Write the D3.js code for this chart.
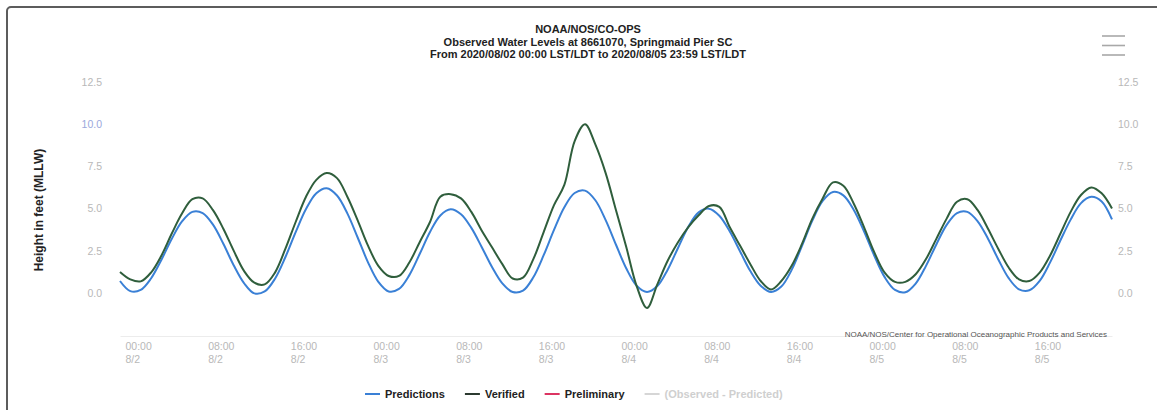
<!DOCTYPE html>
<html>
<head>
<meta charset="utf-8">
<script src="https://cdn.jsdelivr.net/npm/d3@7/dist/d3.min.js"></script>
<style>
  body { margin: 0; background: #fff; }
  svg { display: block; font-family: "Liberation Sans", Arial, sans-serif; }
</style>
</head>
<body>
<div id="chart"></div>
<script>

// chart text
var titleLines = [
    "NOAA/NOS/CO-OPS",
    "Observed Water Levels at 8661070, Springmaid Pier SC",
    "From 2020/08/02 00:00 LST/LDT to 2020/08/05 23:59 LST/LDT"
];
var yTitle = "Height in feet (MLLW)";
var credit = "NOAA/NOS/Center for Operational Oceanographic Products and Services";

// hourly values from 2020/08/02 00:00, feet above MLLW
var startTime = new Date(2020, 7, 2, 0, 0);
var endTime = new Date(2020, 7, 6, 0, 0);

var predictions = [
    0.70, 0.10, 0.17, 0.85, 1.95, 3.19, 4.23, 4.80, 4.73, 4.04,
    2.91, 1.64, 0.58, -0.03, 0.08, 0.84, 2.11, 3.60, 4.97, 5.91,
    6.20, 5.77, 4.71, 3.28, 1.81, 0.65, 0.08, 0.23, 1.05, 2.30,
    3.61, 4.59, 4.95, 4.66, 3.85, 2.72, 1.53, 0.56, 0.05, 0.13,
    0.92, 2.23, 3.73, 5.08, 5.92, 6.06, 5.49, 4.31, 2.85, 1.44,
    0.42, 0.05, 0.40, 1.37, 2.66, 3.92, 4.77, 4.99, 4.57, 3.65,
    2.47, 1.29, 0.42, 0.05, 0.37, 1.36, 2.79, 4.28, 5.45, 5.98,
    5.78, 4.93, 3.65, 2.20, 0.93, 0.17, 0.03, 0.55, 1.60, 2.87,
    4.03, 4.73, 4.80, 4.24, 3.21, 1.98, 0.87, 0.21, 0.15, 0.71,
    1.79, 3.10, 4.34, 5.32, 5.69, 5.41, 4.35
];

var verified = [
    1.24, 0.80, 0.68, 1.20, 2.20, 3.50, 4.70, 5.55, 5.60, 4.90,
    3.80, 2.50, 1.30, 0.60, 0.50, 1.20, 2.60, 4.20, 5.70, 6.70,
    7.10, 6.80, 5.70, 4.30, 2.80, 1.60, 1.00, 1.00, 1.80, 3.00,
    4.20, 5.70, 5.85, 5.60, 4.80, 3.70, 2.70, 1.70, 0.85, 0.90,
    2.00, 3.60, 5.20, 6.40, 9.00, 10.00, 8.80, 7.10, 4.90, 2.70,
    0.40, -0.90, 0.50, 1.90, 3.00, 3.90, 4.60, 5.15, 5.10, 3.90,
    2.80, 1.70, 0.70, 0.20, 0.70, 1.60, 2.90, 4.40, 5.60, 6.55,
    6.35, 5.30, 3.90, 2.40, 1.20, 0.65, 0.65, 1.10, 2.00, 3.20,
    4.40, 5.40, 5.55, 4.90, 3.80, 2.60, 1.50, 0.80, 0.70, 1.20,
    2.20, 3.50, 4.80, 5.80, 6.25, 5.90, 5.00
];

var yTicks = [0, 2.5, 5, 7.5, 10, 12.5];

var legendNames = ["Predictions", "Verified", "Preliminary", "(Observed - Predicted)"];
var legendColors = ["#3a80d6", "#2c3a30", "#dc3462", "#d6d6d6"];
var legendTextColors = ["#222", "#222", "#222", "#cfcfcf"];

var width = 1157,
    height = 410;

var svg = d3.select("#chart").append("svg")
    .attr("width", width)
    .attr("height", height);

// outer frame, only top and left edges fall inside the picture
svg.append("rect")
    .attr("x", 7)
    .attr("y", 7)
    .attr("width", width + 20)
    .attr("height", height + 20)
    .attr("rx", 4)
    .attr("fill", "none")
    .attr("stroke", "#5c5c5c")
    .attr("stroke-width", 2);

// title
svg.append("g").selectAll("text")
    .data(titleLines)
    .enter().append("text")
    .attr("x", 588)
    .attr("y", function (d, i) { return 33 + i * 12.5; })
    .attr("text-anchor", "middle")
    .attr("font-size", "11px")
    .attr("font-weight", "bold")
    .attr("fill", "#222")
    .text(function (d) { return d; });

// menu button
svg.append("g").selectAll("line")
    .data([36, 45.5, 55])
    .enter().append("line")
    .attr("x1", 1102)
    .attr("x2", 1125)
    .attr("y1", function (d) { return d; })
    .attr("y2", function (d) { return d; })
    .attr("stroke", "#a8a8a8")
    .attr("stroke-width", 1.6);

// scales
var x = d3.scaleTime()
    .domain([startTime, endTime])
    .range([120, 1112]);

var y = d3.scaleLinear()
    .domain([-2.5, 12.5])
    .range([335, 82]);

// y axes, both sides
var yLeft = svg.append("g")
    .attr("transform", "translate(102,0)")
    .call(d3.axisLeft(y).tickValues(yTicks).tickFormat(d3.format(".1f")).tickSize(0).tickPadding(0));
yLeft.select(".domain").remove();
yLeft.selectAll("text")
    .attr("font-size", "10.5px")
    .attr("fill", function (d) { return d === 10 ? "#9aa8dc" : "#b8b8b8"; });

var yRight = svg.append("g")
    .attr("transform", "translate(1118,0)")
    .call(d3.axisRight(y).tickValues(yTicks).tickFormat(d3.format(".1f")).tickSize(0).tickPadding(0));
yRight.select(".domain").remove();
yRight.selectAll("text")
    .attr("font-size", "10.5px")
    .attr("fill", "#b8b8b8");

svg.append("text")
    .attr("transform", "translate(43,210) rotate(-90)")
    .attr("text-anchor", "middle")
    .attr("font-size", "12px")
    .attr("font-weight", "bold")
    .attr("fill", "#222")
    .text(yTitle);

// x axis: time on one line, month/day below, every 8 hours
var fmtTime = d3.timeFormat("%H:%M");
var fmtDay = function (d) { return (d.getMonth() + 1) + "/" + d.getDate(); };
var xTicks = d3.timeHours(startTime, endTime, 8);

var xAxis = svg.append("g")
    .attr("transform", "translate(0,336)")
    .call(d3.axisBottom(x).tickValues(xTicks).tickSize(0).tickFormat(""));
xAxis.select(".domain")
    .attr("stroke", "#ececec");
xAxis.selectAll(".tick text").remove();
var xLabel = xAxis.selectAll(".tick").append("text")
    .attr("x", 5)
    .attr("font-size", "10.5px")
    .attr("fill", "#b8b8b8")
    .attr("text-anchor", "start");
xLabel.append("tspan")
    .attr("x", 5)
    .attr("y", 14)
    .text(function (d) { return fmtTime(d); });
xLabel.append("tspan")
    .attr("x", 5)
    .attr("y", 27)
    .text(function (d) { return fmtDay(d); });

// series
var line = d3.line()
    .x(function (d, i) { return x(d3.timeHour.offset(startTime, i)); })
    .y(function (d) { return y(d); })
    .curve(d3.curveCatmullRom.alpha(0.5));

svg.append("path")
    .datum(predictions)
    .attr("d", line)
    .attr("fill", "none")
    .attr("stroke", legendColors[0])
    .attr("stroke-width", 2);

svg.append("path")
    .datum(verified)
    .attr("d", line)
    .attr("fill", "none")
    .attr("stroke", "#2f5e3c")
    .attr("stroke-width", 2);

// credit
svg.append("text")
    .attr("x", 1107)
    .attr("y", 337)
    .attr("text-anchor", "end")
    .attr("font-size", "8px")
    .attr("fill", "#555")
    .text(credit);

// legend
var legend = svg.append("g").attr("transform", "translate(0,394)");
var lx = 365;
legendNames.forEach(function (name, i) {
    var item = legend.append("g").attr("transform", "translate(" + lx + ",0)");
    item.append("line")
        .attr("x1", 0).attr("x2", 15)
        .attr("stroke", legendColors[i])
        .attr("stroke-width", 2);
    var t = item.append("text")
        .attr("x", 20)
        .attr("y", 4)
        .attr("font-size", "11px")
        .attr("font-weight", "bold")
        .attr("fill", legendTextColors[i])
        .text(name);
    lx += 20 + t.node().getComputedTextLength() + 20;
});

</script>
</body>
</html>
